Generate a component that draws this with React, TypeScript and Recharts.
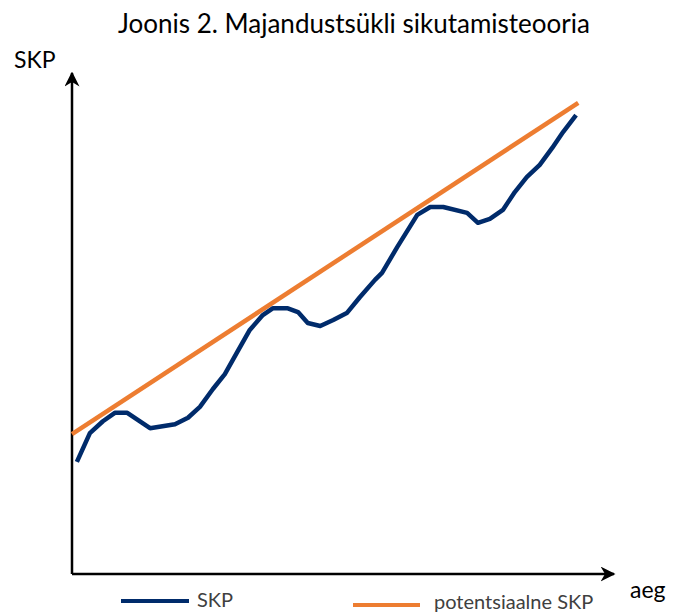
import { Line, LineChart, ReferenceLine, XAxis, YAxis } from "recharts";

// time (0..100 along the x axis) and output level (0..100 along the y axis)
const skpTime = [
  0.9, 3.3, 5.7, 7.9, 10.2, 14.4, 19.0, 21.4, 23.6, 26.0, 28.2, 30.4, 32.8,
  35.2, 37.1, 39.7, 41.7, 43.5, 45.8, 48.2, 50.7, 53.1, 55.9, 57.2, 60.0,
  63.7, 66.1, 68.5, 72.9, 74.9, 77.1, 79.5, 81.7, 83.9, 86.3, 88.6, 90.6,
  93.0,
];
const skpValues = [
  22.6, 28.4, 30.8, 32.5, 32.5, 29.4, 30.2, 31.5, 33.7, 37.3, 40.3, 44.6,
  49.2, 52.2, 53.6, 53.6, 52.8, 50.6, 50.0, 51.2, 52.6, 55.8, 59.3, 60.7,
  65.9, 72.4, 74.0, 74.0, 72.8, 70.8, 71.6, 73.4, 77.0, 80.0, 82.5, 85.9,
  89.1, 92.5,
];
const potentialTime = [0, 93.4];
const potentialValues = [28.2, 95.0];

const NAVY = "#002b6b";
const ORANGE = "#ed7d31";
const FONT = "Lato, 'Noto Sans', sans-serif";

const skpData = skpTime.map((t, i) => ({ t, v: skpValues[i] }));
const potentialData = potentialTime.map((t, i) => ({ t, v: potentialValues[i] }));

export default function App() {
  return (
    <div
      style={{
        position: "absolute",
        top: 0,
        left: 0,
        width: 673,
        height: 614,
        overflow: "hidden",
        background: "#fff",
        fontFamily: FONT,
        lineHeight: 1,
      }}
    >
      {/* arrow heads for the axes */}
      <svg width={0} height={0} style={{ position: "absolute" }}>
        <defs>
          <marker
            id="axisArrow"
            viewBox="0 0 10 10"
            refX={9}
            refY={5}
            markerWidth={6}
            markerHeight={6}
            markerUnits="strokeWidth"
            orient="auto"
          >
            <path d="M0,0 L10,5 L0,10 L3,5 z" fill="#000" />
          </marker>
        </defs>
      </svg>

      <div
        style={{
          position: "absolute",
          top: 10,
          left: 118,
          fontSize: 26,
          color: "#000",
          whiteSpace: "nowrap",
        }}
      >
        Joonis 2. Majandustsükli sikutamisteooria
      </div>
      <div style={{ position: "absolute", left: 14, top: 48, fontSize: 23 }}>
        SKP
      </div>
      <div style={{ position: "absolute", left: 630, top: 578, fontSize: 23 }}>
        aeg
      </div>

      <LineChart
        width={673}
        height={614}
        margin={{ top: 78, right: 59, bottom: 40, left: 72 }}
      >
        <XAxis type="number" dataKey="t" domain={[0, 100]} hide />
        <YAxis type="number" dataKey="v" domain={[0, 100]} hide />
        <ReferenceLine
          segment={[{ x: 0, y: 0 }, { x: 100, y: 0 }]}
          stroke="#000"
          strokeWidth={2.5}
          ifOverflow="visible"
          markerEnd="url(#axisArrow)"
        />
        <ReferenceLine
          segment={[{ x: 0, y: 0 }, { x: 0, y: 101 }]}
          stroke="#000"
          strokeWidth={2.5}
          ifOverflow="visible"
          markerEnd="url(#axisArrow)"
        />
        <Line
          data={potentialData}
          dataKey="v"
          type="linear"
          stroke={ORANGE}
          strokeWidth={4.5}
          dot={false}
          isAnimationActive={false}
        />
        <Line
          data={skpData}
          dataKey="v"
          type="linear"
          stroke={NAVY}
          strokeWidth={4.5}
          strokeLinejoin="round"
          dot={false}
          isAnimationActive={false}
        />
      </LineChart>

      <div style={{ position: "absolute", left: 121, top: 599, width: 68, height: 4, background: NAVY }} />
      <div style={{ position: "absolute", left: 197, top: 589, fontSize: 20, color: "#404040" }}>
        SKP
      </div>
      <div style={{ position: "absolute", left: 353, top: 603, width: 67, height: 4, background: ORANGE }} />
      <div style={{ position: "absolute", left: 434, top: 591, fontSize: 20, color: "#404040" }}>
        potentsiaalne SKP
      </div>
    </div>
  );
}
